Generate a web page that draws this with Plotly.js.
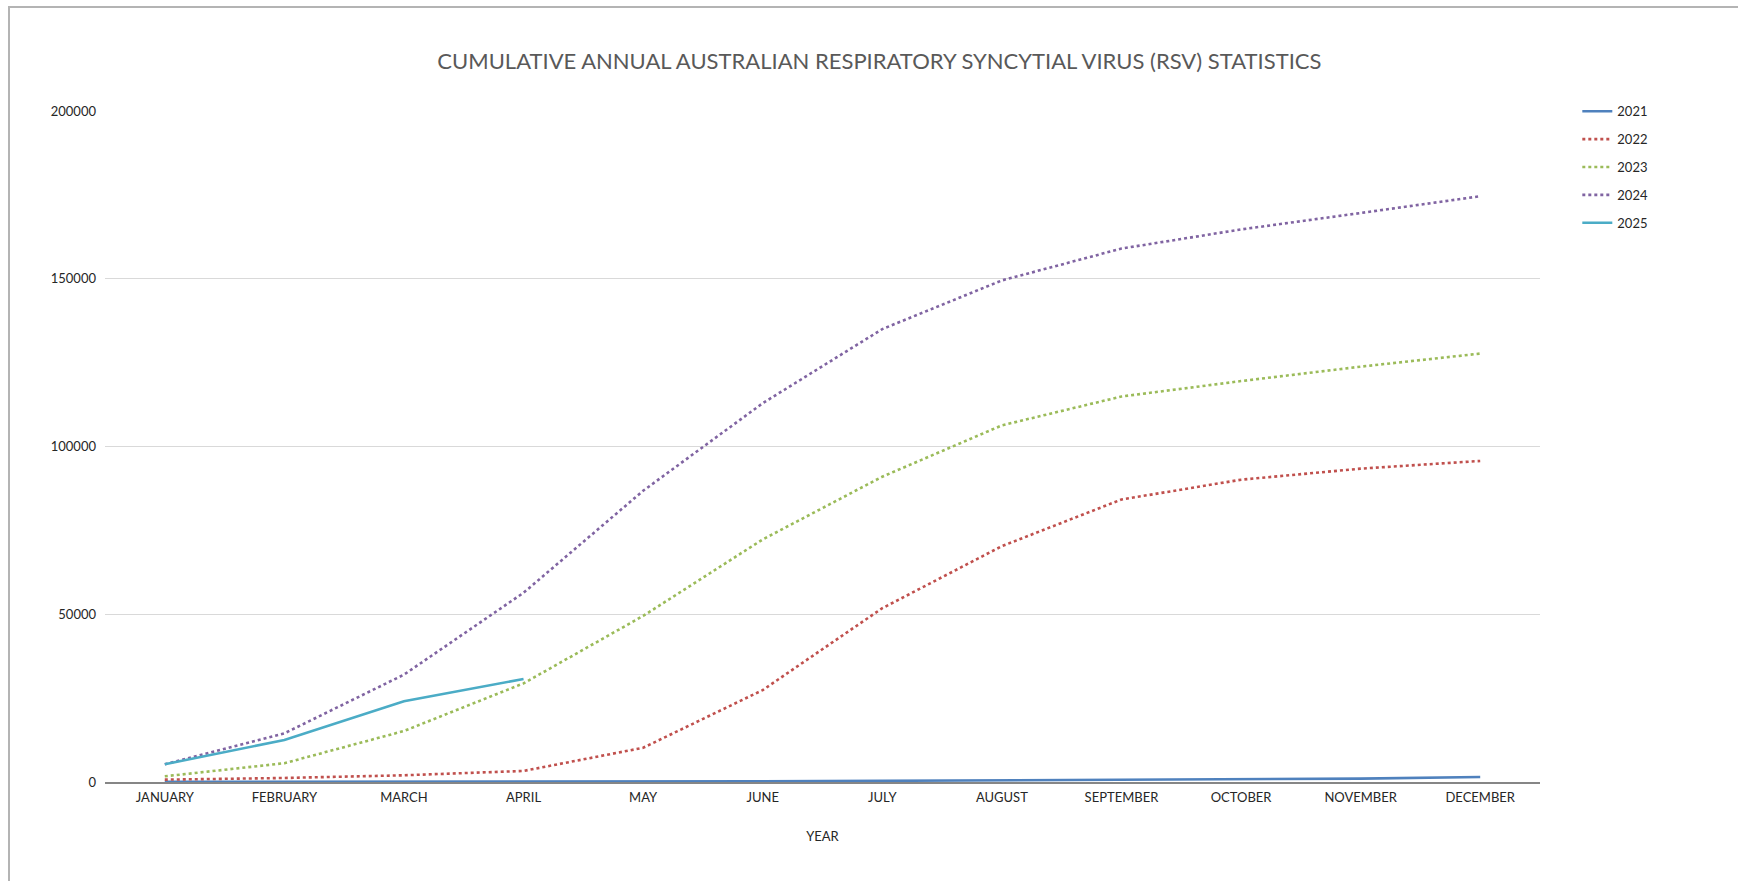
<!DOCTYPE html>
<html>
<head>
<meta charset="utf-8">
<script src="https://cdn.plot.ly/plotly-3.0.1.min.js"></script>
<style>
  html, body { margin: 0; padding: 0; background: #fff; overflow: hidden; }
  #chart { width: 1738px; height: 881px; }
  #frame { position: absolute; left: 8px; top: 6px; width: 1800px; height: 900px;
           border-left: 2px solid #b4b4b4; border-top: 2px solid #b4b4b4; pointer-events: none; }
</style>
</head>
<body>
<div id="chart"></div>
<div id="frame"></div>
<script>
const months = ["JANUARY","FEBRUARY","MARCH","APRIL","MAY","JUNE","JULY","AUGUST","SEPTEMBER","OCTOBER","NOVEMBER","DECEMBER"];
const rsv2021 = [50, 60, 80, 100, 120, 200, 350, 500, 650, 800, 1000, 1500];
const rsv2022 = [700, 1200, 2000, 3300, 10200, 27400, 51800, 70300, 84200, 90100, 93400, 95700];
const rsv2023 = [1700, 5600, 15200, 29400, 49500, 72300, 91000, 106300, 114900, 119500, 123800, 127700];
const rsv2024 = [5300, 14500, 32000, 56400, 86800, 112900, 135000, 149500, 159000, 164700, 169600, 174600];
const rsv2025 = [5300, 12500, 24100, 30700];
const seriesNames = ["2021", "2022", "2023", "2024", "2025"];

const colors = ["#4F81BD", "#C0504D", "#9BBB59", "#8064A2", "#4BACC6"];
const dashes = ["solid", "dot", "dot", "dot", "solid"];
const values = [rsv2021, rsv2022, rsv2023, rsv2024, rsv2025];

const traces = values.map((v, i) => ({
  type: "scatter",
  mode: "lines",
  name: seriesNames[i],
  legendgroup: "g" + i,
  x: months.slice(0, v.length),
  y: v,
  line: { color: colors[i], width: 2.6, dash: dashes[i] },
  hoverinfo: "x+y+name"
}));

const layout = {
  width: 1738,
  height: 881,
  margin: { l: 105, r: 198, t: 111, b: 99 },
  paper_bgcolor: "#ffffff",
  plot_bgcolor: "#ffffff",
  font: { family: "Lato, 'Open Sans', sans-serif", color: "#262626", size: 13 },
  title: {
    text: "CUMULATIVE ANNUAL AUSTRALIAN RESPIRATORY SYNCYTIAL VIRUS (RSV) STATISTICS",
    font: { family: "Lato, 'Open Sans', sans-serif", size: 22, color: "#595959" },
    x: 0.506, xref: "container", xanchor: "center",
    y: 0.93, yref: "container", yanchor: "middle"
  },
  xaxis: {
    type: "category",
    categoryorder: "array",
    categoryarray: months,
    range: [-0.5, 11.5],
    showgrid: false,
    showline: true,
    linecolor: "#868686",
    linewidth: 1.5,
    layer: "below traces",
    ticks: "",
    ticklabelstandoff: 3,
    tickfont: { size: 13, color: "#262626" },
    title: { text: "YEAR", font: { size: 13, color: "#262626" }, standoff: 28 },
    zeroline: false,
    fixedrange: true
  },
  yaxis: {
    range: [0, 200000],
    tickmode: "linear",
    tick0: 0,
    dtick: 50000,
    tickformat: "d",
    showgrid: true,
    gridcolor: "#D9D9D9",
    gridwidth: 1.2,
    zeroline: false,
    showline: false,
    ticks: "",
    ticklabelstandoff: 8,
    tickfont: { size: 13, color: "#262626" },
    layer: "below traces",
    fixedrange: true
  },
  showlegend: true,
  legend: {
    x: 1.026, xanchor: "left",
    y: 1.022, yanchor: "top",
    font: { size: 13, color: "#262626" },
    tracegroupgap: 8,
    bgcolor: "rgba(0,0,0,0)"
  }
};

Plotly.newPlot("chart", traces, layout, { displayModeBar: false, staticPlot: true });
</script>
</body>
</html>
